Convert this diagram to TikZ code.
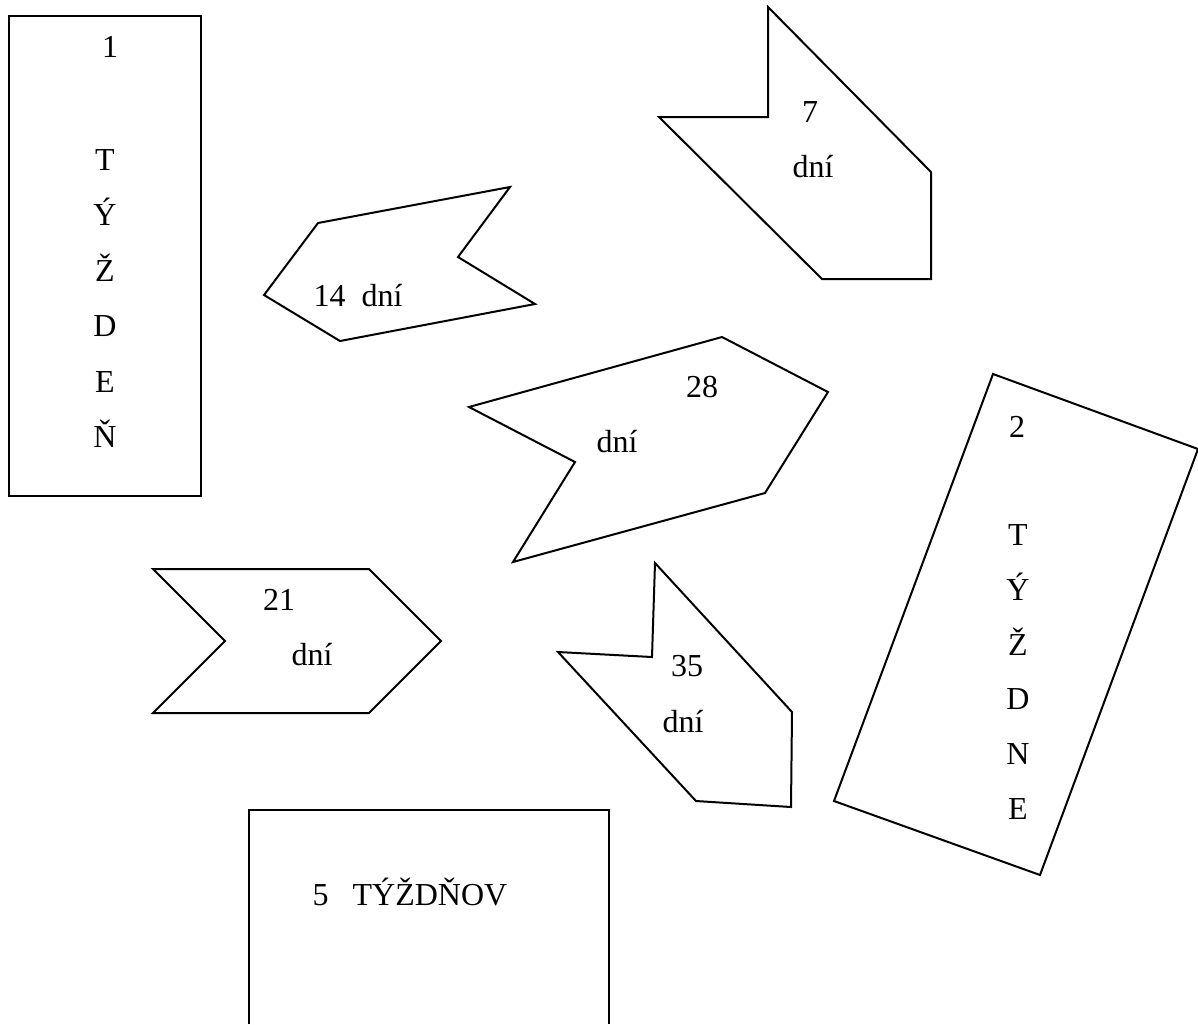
\documentclass[tikz,border=0pt]{standalone}
\usepackage{fontspec}
\setmainfont{Liberation Serif}
\usepackage{tikz}

\begin{document}
\begin{tikzpicture}[x=0.5pt,y=-0.5pt,
    tile/.style={draw=black,line width=1pt,line join=miter},
    lbl/.style={inner sep=0pt,anchor=base,font=\fontsize{16pt}{19pt}\selectfont}]
  \useasboundingbox (0,0) rectangle (1198,1024);
  \draw[tile] (9,16) rectangle (201,496);
  \draw[tile] (768,7) -- (931,172) -- (931,279) -- (822,279) -- (659,117) -- (768,117) -- cycle;
  \draw[tile] (318,223) -- (510,187) -- (458,257) -- (535,304) -- (340,341) -- (264,295) -- cycle;
  \draw[tile] (722,337) -- (828,392) -- (765,493) -- (513,562) -- (575,462) -- (469,407) -- cycle;
  \draw[tile] (153,569) -- (369,569) -- (441,641) -- (369,713) -- (153,713) -- (225,641) -- cycle;
  \draw[tile] (655,563) -- (792,712) -- (791,807) -- (696,801) -- (558,652) -- (652,657) -- cycle;
  \draw[tile] (993,374) -- (1198,449) -- (1040,875) -- (834,801) -- cycle;
  \draw[tile] (249,1024) -- (249,810) -- (609,810) -- (609,1024);
  \node[lbl] (w1n) at (110,57) {1};
  \node[lbl] (w1a) at (105,170) {T};
  \node[lbl] (w1b) at (105,225) {Ý};
  \node[lbl] (w1c) at (105,281) {Ž};
  \node[lbl] (w1d) at (105,336) {D};
  \node[lbl] (w1e) at (105,392) {E};
  \node[lbl] (w1f) at (105,447) {Ň};
  \node[lbl] (d7n) at (810,122) {7};
  \node[lbl] (d7t) at (813,177) {dní};
  \node[lbl] (d14) at (358,306) {14~~dní};
  \node[lbl] (d28n) at (702,397) {28};
  \node[lbl] (d28t) at (617,452) {dní};
  \node[lbl] (d21n) at (279,610) {21};
  \node[lbl] (d21t) at (312,665) {dní};
  \node[lbl] (d35n) at (687,676) {35};
  \node[lbl] (d35t) at (683,732) {dní};
  \node[lbl] (w2n) at (1017,437) {2};
  \node[lbl] (w2a) at (1018,545) {T};
  \node[lbl] (w2b) at (1018,600) {Ý};
  \node[lbl] (w2c) at (1018,655) {Ž};
  \node[lbl] (w2d) at (1018,709) {D};
  \node[lbl] (w2e) at (1018,764) {N};
  \node[lbl] (w2f) at (1018,819) {E};
  \node[lbl] (w5) at (410,905) {5~~~TÝŽDŇOV};
\end{tikzpicture}
\end{document}
